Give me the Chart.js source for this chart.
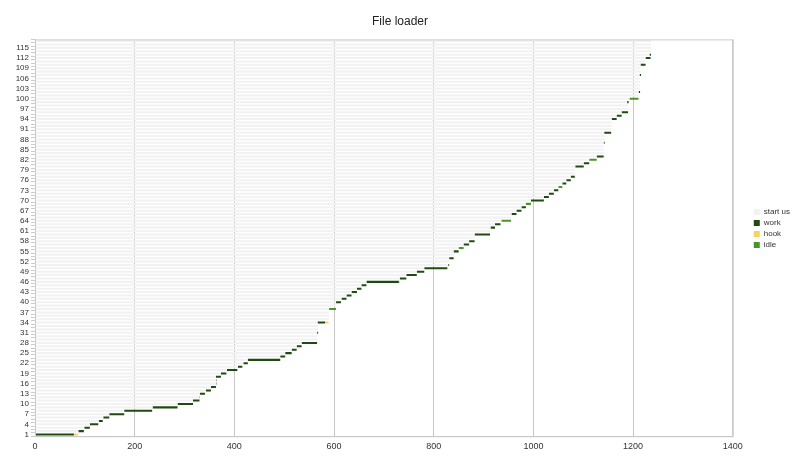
<!DOCTYPE html>
<html>
<head>
<meta charset="utf-8">
<title>File loader</title>
<script src="https://cdn.jsdelivr.net/npm/chart.js@4/dist/chart.umd.min.js"></script>
<style>
  html, body { margin:0; padding:0; background:#fff; }
  #wrap { width:800px; height:459px; }
</style>
</head>
<body>
<div id="wrap"><canvas id="chart"></canvas></div>
<script>
'use strict';

// ── Data (row index 1..117, values in time units) ─────────────────────────
const rows = Array.from({ length: 117 }, (_, i) => String(i + 1));

const startUs = [
  0, 87, 99, 110, 128, 137, 149, 179, 236, 286,
  317, 330, 331, 343, 353, 363, 363, 363, 373, 385,
  407, 418, 427, 492, 502, 515, 525, 535, 566, 566,
  566, 568, 568, 567, 590, 590, 590, 590, 604, 604,
  615, 625, 635, 646, 655, 665, 732, 745, 766, 781,
  829, 831, 831, 840, 840, 850, 860, 871, 882, 882,
  913, 914, 923, 934, 955, 956, 966, 976, 985, 995,
  1021, 1031, 1041, 1050, 1058, 1066, 1075, 1084, 1084, 1084,
  1101, 1112, 1127, 1141, 1141, 1141, 1141, 1143, 1143, 1142,
  1157, 1157, 1157, 1157, 1167, 1177, 1190, 1190, 1188, 1191,
  1211, 1211, 1214, 1214, 1214, 1214, 1213, 1215, 1215, 1215,
  1225, 1225, 1233, 1236, 1236, 1236, 1236,
];

const work = [
  78, 11, 11, 17, 8, 12, 30, 56, 50, 31,
  13, 1, 10, 10, 10, 1, 1, 10, 11, 21,
  9, 9, 65, 10, 13, 10, 10, 31, 0, 0,
  2, 0, 0, 15, 0, 0, 0, 0, 0, 10,
  10, 10, 11, 9, 10, 65, 13, 21, 15, 46,
  2, 0, 9, 0, 10, 0, 11, 11, 0, 31,
  0, 9, 11, 0, 0, 10, 10, 9, 0, 26,
  10, 10, 9, 0, 8, 9, 8, 0, 0, 17,
  11, 0, 14, 0, 0, 0, 2, 0, 0, 14,
  0, 0, 0, 10, 10, 13, 0, 0, 3, 0,
  0, 3, 0, 0, 0, 0, 3, 0, 0, 10,
  0, 10, 3, 0, 0, 0, 0,
];

const hook = [
  8, 0, 0, 0, 0, 0, 0, 0, 0, 0,
  0, 0, 0, 0, 0, 0, 0, 0, 0, 0,
  0, 0, 0, 0, 0, 0, 0, 0, 0, 0,
  0, 0, 0, 7, 0, 0, 0, 0, 0, 0,
  0, 0, 0, 0, 0, 2, 0, 0, 0, 2,
  0, 0, 0, 0, 0, 0, 0, 0, 0, 0,
  0, 0, 0, 2, 0, 0, 0, 0, 0, 0,
  0, 0, 0, 0, 0, 0, 1, 0, 0, 0,
  0, 0, 0, 0, 0, 0, 0, 0, 0, 0,
  0, 0, 0, 0, 0, 0, 0, 0, 0, 2,
  0, 0, 0, 0, 0, 0, 0, 0, 0, 0,
  0, 0, 0, 0, 0, 0, 0,
];

const idle = [
  0, 0, 0, 0, 0, 0, 0, 0, 0, 0,
  0, 0, 0, 0, 0, 0, 0, 0, 0, 0,
  0, 0, 0, 0, 0, 0, 0, 0, 0, 0,
  0, 0, 0, 0, 0, 0, 0, 14, 0, 0,
  0, 0, 0, 0, 0, 0, 0, 0, 0, 0,
  0, 0, 0, 0, 0, 10, 0, 0, 0, 0,
  0, 0, 0, 19, 0, 0, 0, 0, 10, 0,
  0, 0, 0, 8, 0, 0, 0, 0, 0, 0,
  0, 15, 0, 0, 0, 0, 0, 0, 0, 0,
  0, 0, 0, 0, 0, 0, 0, 0, 0, 18,
  0, 0, 0, 0, 0, 0, 0, 0, 0, 0,
  0, 0, 0, 0, 0, 0, 0,
];

const xTicks = [0, 200, 400, 600, 800, 1000, 1200, 1400];

// ── Chart ──────────────────────────────────────────────────────────────────
Chart.defaults.font.family = '"Liberation Sans", Arial, sans-serif';
Chart.defaults.color = '#333';

// box round the plot area
const frame = {
  id: 'frame',
  afterDraw(chart) {
    const { ctx, chartArea: a } = chart;
    ctx.save();
    ctx.strokeStyle = '#ccc';
    ctx.lineWidth = 1;
    ctx.strokeRect(a.left + 0.5, a.top + 0.5, a.right - a.left, a.bottom - a.top);
    ctx.restore();
  },
};

const bar = (label, data, color) => ({
  label, data, backgroundColor: color, borderWidth: 0,
  barPercentage: 0.6, categoryPercentage: 1,
});

new Chart(document.getElementById('chart'), {
  type: 'bar',
  data: {
    labels: rows,
    datasets: [
      bar('start us', startUs, '#f2f2f2'),
      bar('work',     work,    '#1f4a10'),
      bar('hook',     hook,    '#f8d45e'),
      bar('idle',     idle,    '#4a9528'),
    ],
  },
  options: {
    indexAxis: 'y',
    responsive: true, maintainAspectRatio: false, animation: false,
    layout: { padding: { left: 0, right: 0, bottom: 2 } },
    plugins: {
      title: { display: true, text: 'File loader', color: '#222',
        font: { size: 12, weight: 'normal' }, padding: { top: 14, bottom: 11 } },
      legend: { position: 'right',
        labels: { boxWidth: 6, boxHeight: 6, padding: 3, color: '#333', font: { size: 8 } } },
      tooltip: { enabled: false },
    },
    scales: {
      x: {
        stacked: true, min: 0, max: 1400,
        afterBuildTicks: s => { s.ticks = xTicks.map(v => ({ value: v })); },
        grid: { color: '#c8c8c8', drawTicks: false },
        border: { color: '#bbb' },
        ticks: { color: '#333', font: { size: 9 }, padding: 5, callback: v => String(v) },
      },
      y: {
        stacked: true, reverse: true,
        afterFit: s => { s.width = 35; },
        grid: { drawOnChartArea: false, tickLength: 4, color: '#ccc' },
        border: { color: '#ccc' },
        ticks: { autoSkip: false, color: '#333', font: { size: 8 }, padding: 2,
          callback: (v, i) => (i % 3 === 0 ? rows[i] : '') },
      },
      // empty axis: keeps the gap between plot and legend
      gap: {
        type: 'linear', axis: 'y', position: 'right',
        grid: { display: false }, border: { display: false }, ticks: { display: false },
        afterFit: s => { s.width = 18; },
      },
    },
  },
  plugins: [frame],
});
</script>
</body>
</html>
